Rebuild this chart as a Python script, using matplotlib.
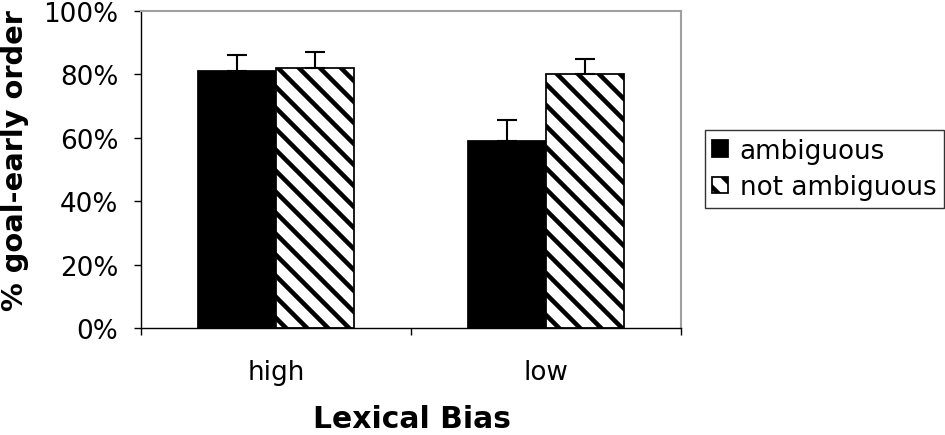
import numpy as np
import matplotlib.pyplot as plt
#--------------------------------------------------------------------------------------------------------------------
# Data
#--------------------------------------------------------------------------------------------------------------------
categories   = ['high', 'low']
series_names = ['ambiguous', 'not ambiguous']
ambiguous     = [0.81, 0.59]
not_ambiguous = [0.82, 0.80]
err_ambiguous     = [0.05, 0.065]
err_not_ambiguous = [0.05, 0.05]
yticks = [0.0, 0.2, 0.4, 0.6, 0.8, 1.0]
ytick_labels = ['0%', '20%', '40%', '60%', '80%', '100%']
#--------------------------------------------------------------------------------------------------------------------
# Figure
#--------------------------------------------------------------------------------------------------------------------
plt.rcParams['font.family'] = ['DejaVu Sans']
plt.rcParams['hatch.linewidth'] = 2.6
plt.rcParams['hatch.color'] = 'black'
fs = 15
fig = plt.figure(figsize=(7.5, 3.46), dpi=126)
ax = fig.add_axes([141/945, 1-329/436, (681-141)/945, (329-12)/436])

x = np.arange(len(categories))
w = 0.29
ax.bar(x - w/2, ambiguous, w, color='black', edgecolor='black', linewidth=1.0, label=series_names[0],
       yerr=[np.zeros(2), err_ambiguous], error_kw=dict(ecolor='black', elinewidth=1.2, capsize=5.7, capthick=1.2))
ax.bar(x + w/2, not_ambiguous, w, color='white', edgecolor='black', linewidth=1.0, hatch='\\\\', label=series_names[1],
       yerr=[np.zeros(2), err_not_ambiguous], error_kw=dict(ecolor='black', elinewidth=1.2, capsize=5.7, capthick=1.2))

ax.set_xlim(-0.5, 1.5)
ax.set_ylim(0, 1.0)
ax.set_yticks(yticks)
ax.set_yticklabels(ytick_labels, fontsize=fs)
ax.set_xticks([-0.5, 0.5, 1.5])
ax.set_xticklabels([])
ax.set_xticks(x, minor=True)
ax.set_xticklabels(categories, minor=True, fontsize=fs)
ax.tick_params(axis='x', which='major', direction='out', length=4, width=0.8, color='black')
ax.tick_params(axis='x', which='minor', length=0, pad=18)
ax.tick_params(axis='y', direction='out', length=4, width=0.8, pad=9)

for s in ['left', 'bottom']:
    ax.spines[s].set_color('black')
    ax.spines[s].set_linewidth(0.8)
for s in ['top', 'right']:
    ax.spines[s].set_color('#a0a0a0')
    ax.spines[s].set_linewidth(1.2)

# axis titles
fig.text(412/945, 1-428/436, 'Lexical Bias', fontsize=17, fontweight='bold', ha='center', va='baseline')
fig.text(15/945, 1-161/436, '% goal-early order', rotation=90, fontsize=16.5, fontweight='bold',
         ha='center', va='center')

leg = ax.legend(loc='upper right', bbox_to_anchor=(944/945, 1-131/436), bbox_transform=fig.transFigure,
                fontsize=fs, frameon=True, fancybox=False, edgecolor='black', borderaxespad=0,
                handlelength=0.58, handleheight=0.6, handletextpad=0.45, borderpad=0.3, labelspacing=0.4)
leg.get_frame().set_linewidth(0.8)

plt.savefig('out.png', dpi=126)
